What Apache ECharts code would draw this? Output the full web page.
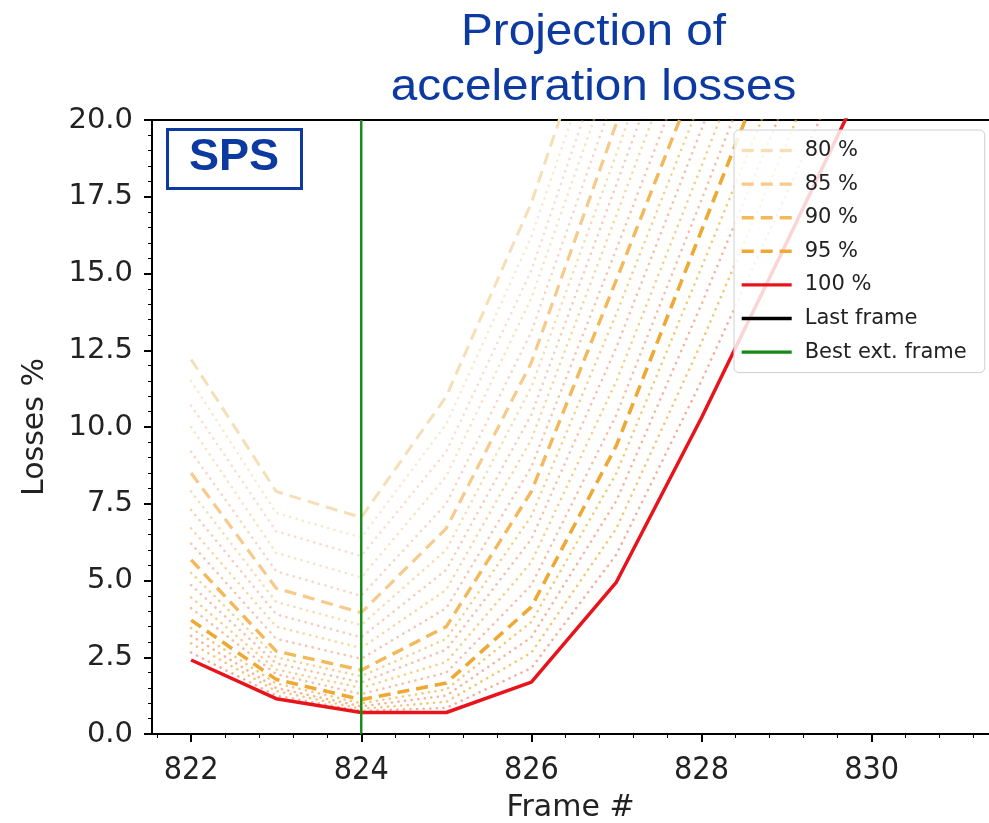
<!DOCTYPE html>
<html>
<head>
<meta charset="utf-8">
<script src="https://cdn.jsdelivr.net/npm/echarts@6/dist/echarts.min.js"></script>
<style>
html,body{margin:0;padding:0;background:#fff;}
#chart{width:989px;height:823px;}
</style>
</head>
<body>
<div id="chart"></div>
<script>
// ---- data ----
const frames = [822, 823, 824, 825, 826, 827, 828, 829, 830, 831];

// main (legend) curves: projected losses for each efficiency
const loss80  = [12.2, 7.9, 7.05, 11.0, 17.3, 25.5];
const loss85  = [8.5, 4.75, 3.95, 6.7, 12.1, 19.9, 28.0];
const loss90  = [5.67, 2.7, 2.08, 3.5, 7.9, 14.8, 21.8];
const loss95  = [3.71, 1.78, 1.12, 1.66, 4.14, 9.4, 16.4, 23.4];
const loss100 = [2.41, 1.15, 0.7, 0.7, 1.69, 4.95, 10.3, 16.0, 21.8];

// intermediate dotted curves (1 % steps)
const loss81 = [11.5, 7.2, 6.4, 10.1, 16.2, 24.3];
const loss82 = [10.7, 6.6, 5.8, 9.2, 15.1, 23.2];
const loss83 = [10.0, 5.9, 5.1, 8.4, 14.2, 22.1];
const loss84 = [9.2, 5.3, 4.5, 7.5, 13.1, 21.0];
const loss86 = [7.9, 4.3, 3.55, 6.0, 11.3, 18.9, 26.8];
const loss87 = [7.3, 3.9, 3.15, 5.35, 10.4, 17.9, 25.5];
const loss88 = [6.7, 3.5, 2.8, 4.7, 9.6, 16.9, 24.3];
const loss89 = [6.2, 3.1, 2.45, 4.1, 8.7, 15.8, 23.0];
const loss91 = [5.25, 2.5, 1.88, 3.1, 7.1, 13.7, 20.7];
const loss92 = [4.85, 2.3, 1.68, 2.75, 6.35, 12.6, 19.7, 26.8];
const loss93 = [4.45, 2.1, 1.5, 2.35, 5.6, 11.5, 18.5, 25.6];
const loss94 = [4.1, 1.95, 1.3, 2.0, 4.85, 10.4, 17.4, 24.5];
const loss96 = [3.45, 1.65, 1.0, 1.45, 3.65, 8.5, 15.2, 22.0];
const loss97 = [3.2, 1.5, 0.9, 1.25, 3.15, 7.6, 14.0, 20.7];
const loss98 = [2.95, 1.4, 0.82, 1.05, 2.65, 6.7, 12.75, 19.25, 25.9];
const loss99 = [2.65, 1.25, 0.75, 0.85, 2.15, 5.85, 11.5, 17.6, 23.8];

const bestExtFrame = 824;
const yRange = [0, 20];

const xMajorTicks = [822, 824, 826, 828, 830];
const xMinorTicks = [821.6, 822.4, 822.8, 823.2, 823.6, 824.4, 824.8, 825.2, 825.6,
  826.4, 826.8, 827.2, 827.6, 828.4, 828.8, 829.2, 829.6, 830.4, 830.8, 831.2];

// ---- build chart ----
function pts(arr) { return arr.map((v, i) => [frames[i], v]); }

const dotted = [
  ['81', loss81, 'rgba(238,200,140,0.4)'],
  ['82', loss82, 'rgba(240,170,140,0.4)'],
  ['83', loss83, 'rgba(238,195,120,0.45)'],
  ['84', loss84, 'rgba(240,165,130,0.45)'],
  ['86', loss86, 'rgba(236,190,100,0.5)'],
  ['87', loss87, 'rgba(240,155,120,0.5)'],
  ['88', loss88, 'rgba(236,185,90,0.55)'],
  ['89', loss89, 'rgba(240,150,110,0.55)'],
  ['91', loss91, 'rgba(235,180,70,0.6)'],
  ['92', loss92, 'rgba(240,140,100,0.55)'],
  ['93', loss93, 'rgba(235,178,60,0.6)'],
  ['94', loss94, 'rgba(240,135,95,0.55)'],
  ['96', loss96, 'rgba(235,175,50,0.65)'],
  ['97', loss97, 'rgba(240,130,90,0.6)'],
  ['98', loss98, 'rgba(235,170,45,0.65)'],
  ['99', loss99, 'rgba(240,120,85,0.6)']
];

const series = [];
dotted.forEach(([n, arr, c]) => {
  series.push({
    name: 'p' + n, type: 'line', data: pts(arr), symbol: 'none', silent: true,
    lineStyle: { color: c, width: 2.6, type: [0.1, 6.5], cap: 'round' }
  });
});
const dashed = [
  ['80 %', loss80, '#f6dfb6', 3.0],
  ['85 %', loss85, '#f7c98a', 3.2],
  ['90 %', loss90, '#f3b85a', 3.4],
  ['95 %', loss95, '#eea935', 3.6]
];
dashed.forEach(([n, arr, c, w]) => {
  series.push({
    name: n, type: 'line', data: pts(arr), symbol: 'none',
    itemStyle: { color: c },
    lineStyle: { color: c, width: w, type: [12, 7] }
  });
});
series.push({
  name: '100 %', type: 'line', data: pts(loss100), symbol: 'none',
  itemStyle: { color: '#e8141c' },
  lineStyle: { color: '#e8141c', width: 3.5 }
});
series.push({
  name: 'Last frame', type: 'line', data: [], symbol: 'none',
  itemStyle: { color: '#000' }, lineStyle: { color: '#000', width: 2.4 }
});
series.push({
  name: 'Best ext. frame', type: 'line', symbol: 'none',
  data: [[bestExtFrame, yRange[0]], [bestExtFrame, yRange[1]]],
  itemStyle: { color: '#138a13' }, lineStyle: { color: '#138a13', width: 2.4 }
});

const TITLE_COLOR = '#0c3aa0';
const chart = echarts.init(document.getElementById('chart'), null, { renderer: 'canvas' });
chart.setOption({
  animation: false,
  backgroundColor: '#fff',
  graphic: [
    { type: 'text', x: 593.5, y: 33, scaleX: 1.06, z: 100,
      style: { text: 'Projection of', fill: TITLE_COLOR, font: '45px "Liberation Sans"', textAlign: 'center', textVerticalAlign: 'middle' } },
    { type: 'text', x: 593.5, y: 88, scaleX: 1.06, z: 100,
      style: { text: 'acceleration losses', fill: TITLE_COLOR, font: '45px "Liberation Sans"', textAlign: 'center', textVerticalAlign: 'middle' } },
    { type: 'rect', left: 166, top: 128, shape: { width: 134, height: 59 },
      style: { fill: '#fff', stroke: TITLE_COLOR, lineWidth: 3 }, z: 100 },
    { type: 'text', x: 234, y: 158, z: 101,
      style: { text: 'SPS', fill: TITLE_COLOR, font: 'bold 45px "Liberation Sans"', textAlign: 'center', textVerticalAlign: 'middle' } }
  ],
  legend: {
    orient: 'vertical', left: 734, top: 130,
    data: ['80 %', '85 %', '90 %', '95 %', '100 %', 'Last frame', 'Best ext. frame'],
    itemWidth: 50, itemHeight: 14, itemGap: 12.6,
    padding: [10, 18, 10, 6],
    itemStyle: { opacity: 0 },
    lineStyle: { width: 3.4 },
    backgroundColor: 'rgba(255,255,255,0.82)',
    borderColor: '#d0d0d0', borderWidth: 1, borderRadius: 5,
    textStyle: { fontFamily: 'DejaVu Sans', fontSize: 21, color: '#222', lineHeight: 20, padding: [0, 0, 0, 8] },
    selectedMode: false
  },
  grid: { left: 152, right: 0, top: 120, bottom: 89, containLabel: false, outerBoundsMode: 'none' },
  xAxis: [
    {
      type: 'value', min: 821.54, max: 831.38, position: 'bottom',
      name: 'Frame #', nameLocation: 'middle', nameGap: 59,
      nameTextStyle: { fontFamily: 'DejaVu Sans', fontSize: 30, color: '#222' },
      axisLine: { show: true, onZero: false, lineStyle: { color: '#000', width: 2 } },
      axisTick: { show: true, length: 8, customValues: xMajorTicks, lineStyle: { color: '#000', width: 2 } },
      axisLabel: { customValues: xMajorTicks, margin: 21, fontFamily: 'DejaVu Sans Condensed', fontSize: 32, color: '#222' },
      splitLine: { show: false }
    },
    {
      type: 'value', min: 821.54, max: 831.38, position: 'bottom',
      axisLine: { show: false },
      axisTick: { show: true, length: 4, customValues: xMinorTicks, lineStyle: { color: '#000', width: 1 } },
      axisLabel: { show: false }, splitLine: { show: false }
    },
    {
      type: 'value', min: 821.54, max: 831.38, position: 'top',
      axisLine: { show: true, onZero: false, lineStyle: { color: '#000', width: 2 } },
      axisTick: { show: false }, axisLabel: { show: false }, splitLine: { show: false }
    }
  ],
  yAxis: {
    type: 'value', min: yRange[0], max: yRange[1], interval: 2.5,
    name: 'Losses %', nameLocation: 'middle', nameGap: 102,
    nameTextStyle: { fontFamily: 'DejaVu Sans', fontSize: 30, color: '#222' },
    axisLine: { show: true, onZero: false, lineStyle: { color: '#000', width: 2 } },
    axisTick: { show: true, length: 8, lineStyle: { color: '#000', width: 2 } },
    minorTick: { show: true, splitNumber: 5, length: 4, lineStyle: { color: '#000', width: 1 } },
    axisLabel: { margin: 19, fontFamily: 'DejaVu Sans', fontSize: 29, color: '#222', formatter: v => v.toFixed(1) },
    splitLine: { show: false }
  },
  series: series
});
</script>
</body>
</html>
